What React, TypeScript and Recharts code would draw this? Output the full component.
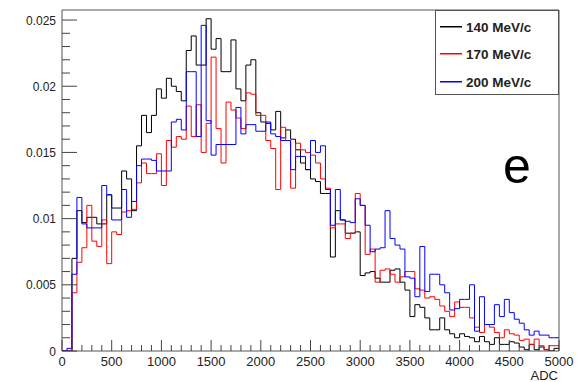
import { LineChart, Line, XAxis, YAxis, ReferenceArea } from 'recharts'

// ADC histogram, 100 bins of 50 ADC (0-5000)
const binLow: number[] = Array.from({ length: 100 }, (_, i) => i * 50)

const p140 = [
  0, 0, 0.0070, 0.0106, 0.0097, 0.0101, 0.0101, 0.0096, 0.0096, 0.0118,
  0.0108, 0.0108, 0.0136, 0.0130, 0.0106, 0.0155, 0.0178, 0.0165, 0.0178, 0.0198,
  0.0191, 0.0206, 0.0200, 0.0196, 0.0189, 0.0227, 0.0238, 0.0216, 0.0216, 0.0251,
  0.0228, 0.0236, 0.0211, 0.0211, 0.0235, 0.0198, 0.0189, 0.0216, 0.0220, 0.0180,
  0.0173, 0.0172, 0.0167, 0.0181, 0.0161, 0.0167, 0.0160, 0.0152, 0.0142, 0.0137,
  0.0130, 0.0128, 0.0119, 0.0119, 0.0071, 0.0106, 0.0099, 0.0089, 0.0089, 0.0090,
  0.0057, 0.0059, 0.0060, 0.0055, 0.0052, 0.0052, 0.0061, 0.0062, 0.0052, 0.0046,
  0.0026, 0.0035, 0.0033, 0.0025, 0.0016, 0.0016, 0.0025, 0.0016, 0.0013, 0.0010,
  0.0013, 0.0011, 0.0010, 0.0007, 0.0011, 0.0007, 0.0005, 0.0010, 0.0005, 0.0005,
  0.0007, 0.0006, 0.0003, 0.0001, 0.0005, 0.0001, 0.0003, 0.0001, 0.0000, 0.0002,
]

const p170 = [
  0, 0, 0.0044, 0.0067, 0.0078, 0.0110, 0.0083, 0.0079, 0.0099, 0.0066,
  0.0090, 0.0088, 0.0105, 0.0106, 0.0107, 0.0127, 0.0142, 0.0134, 0.0134, 0.0149,
  0.0125, 0.0159, 0.0154, 0.0162, 0.0160, 0.0185, 0.0162, 0.0186, 0.0150, 0.0172,
  0.0222, 0.0168, 0.0142, 0.0188, 0.0182, 0.0176, 0.0168, 0.0195, 0.0194, 0.0178,
  0.0178, 0.0159, 0.0153, 0.0122, 0.0169, 0.0159, 0.0123, 0.0157, 0.0152, 0.0150,
  0.0148, 0.0142, 0.0130, 0.0123, 0.0093, 0.0096, 0.0096, 0.0085, 0.0089, 0.0119,
  0.0110, 0.0073, 0.0077, 0.0052, 0.0061, 0.0062, 0.0058, 0.0052, 0.0056, 0.0060,
  0.0060, 0.0047, 0.0046, 0.0040, 0.0041, 0.0039, 0.0034, 0.0030, 0.0026, 0.0037,
  0.0033, 0.0033, 0.0025, 0.0018, 0.0014, 0.0020, 0.0018, 0.0014, 0.0010, 0.0016,
  0.0013, 0.0012, 0.0008, 0.0009, 0.0005, 0.0009, 0.0004, 0.0001, 0.0004, 0.0004,
]

const p200 = [
  0, 0.0002, 0.0058, 0.0116, 0.0096, 0.0093, 0.0093, 0.0093, 0.0125, 0.0118,
  0.0099, 0.0099, 0.0122, 0.0101, 0.0113, 0.0140, 0.0145, 0.0145, 0.0144, 0.0136,
  0.0136, 0.0136, 0.0173, 0.0175, 0.0167, 0.0211, 0.0211, 0.0162, 0.0246, 0.0174,
  0.0148, 0.0156, 0.0156, 0.0156, 0.0156, 0.0184, 0.0164, 0.0171, 0.0171, 0.0166,
  0.0166, 0.0173, 0.0164, 0.0162, 0.0159, 0.0159, 0.0137, 0.0147, 0.0147, 0.0137,
  0.0159, 0.0150, 0.0155, 0.0122, 0.0095, 0.0122, 0.0099, 0.0098, 0.0097, 0.0115,
  0.0110, 0.0095, 0.0075, 0.0077, 0.0078, 0.0106, 0.0085, 0.0080, 0.0077, 0.0056,
  0.0055, 0.0041, 0.0079, 0.0045, 0.0058, 0.0058, 0.0050, 0.0044, 0.0031, 0.0032,
  0.0039, 0.0039, 0.0050, 0.0015, 0.0041, 0.0020, 0.0020, 0.0035, 0.0026, 0.0039,
  0.0029, 0.0024, 0.0021, 0.0016, 0.0012, 0.0015, 0.0012, 0.0012, 0.0010, 0.0010,
]

const series = [
  { key: 'p140', name: '140 MeV/c', color: '#000000' },
  { key: 'p170', name: '170 MeV/c', color: '#ff0000' },
  { key: 'p200', name: '200 MeV/c', color: '#0000ff' },
]

const xMajor = [0, 500, 1000, 1500, 2000, 2500, 3000, 3500, 4000, 4500, 5000]
const yMajor = [0, 0.005, 0.01, 0.015, 0.02, 0.025]
const yLabels = ['0', '0.005', '0.01', '0.015', '0.02', '0.025']

const xTicks = Array.from({ length: 51 }, (_, i) => i * 100)
const yTicks = Array.from({ length: 26 }, (_, i) => i / 1000)

const X_MAX = 5000
const Y_MAX = 0.02576

// plot geometry
const W = 579
const H = 382
const LEFT = 62
const BOTTOM = 351
const FONT = '"Liberation Sans", Arial, Helvetica, sans-serif'

// last point repeats the last bin so the outline reaches 5000
const data = [...binLow, X_MAX].map((adc, i) => {
  const j = Math.min(i, 99)
  return { adc, p140: p140[j], p170: p170[j], p200: p200[j] }
})

const XTick = (props: any) => {
  const { x, payload } = props
  const v = payload.value
  const major = xMajor.includes(v)
  return (
    <g>
      <line x1={x} x2={x} y1={BOTTOM} y2={BOTTOM - (major ? 11 : 6)} stroke="#444" strokeWidth={1} />
      {major && (
        <text x={x} y={366} textAnchor="middle" fontSize={13} fontFamily={FONT} fill="#222">
          {v}
        </text>
      )}
    </g>
  )
}

const YTick = (props: any) => {
  const { y, payload } = props
  const idx = yMajor.findIndex((m) => Math.abs(m - payload.value) < 1e-9)
  const major = idx >= 0
  return (
    <g>
      <line x1={LEFT} x2={LEFT + (major ? 15 : 8)} y1={y} y2={y} stroke="#444" strokeWidth={1} />
      {major && (
        <text x={56} y={y} dy={4.5} textAnchor="end" fontSize={12} fontFamily={FONT} fill="#222">
          {yLabels[idx]}
        </text>
      )}
    </g>
  )
}

const legendRows = [26, 53, 81]

export default function App() {
  return (
    <div style={{ position: 'absolute', left: 0, top: 0, width: W, height: H, background: '#fff' }}>
      <LineChart width={W} height={H} data={data} margin={{ top: 10, right: 20, bottom: 11, left: 0 }}>
        <XAxis
          type="number"
          dataKey="adc"
          domain={[0, X_MAX]}
          ticks={xTicks}
          interval={0}
          tick={<XTick />}
          tickLine={false}
          axisLine={false}
          height={20}
        />
        <YAxis
          type="number"
          domain={[0, Y_MAX]}
          ticks={yTicks}
          interval={0}
          tick={<YTick />}
          tickLine={false}
          axisLine={false}
          width={62}
          allowDataOverflow
        />
        <ReferenceArea x1={0} x2={X_MAX} y1={0} y2={Y_MAX} fill="none" stroke="#555" strokeWidth={1} ifOverflow="visible" />
        {series.map((s) => (
          <Line
            key={s.key}
            type="stepAfter"
            dataKey={s.key}
            stroke={s.color}
            strokeWidth={1}
            dot={false}
            activeDot={false}
            isAnimationActive={false}
          />
        ))}
        <text x={558} y={380} textAnchor="end" fontSize={13} fontFamily={FONT} fill="#222">
          ADC
        </text>
        <g>
          <rect x={435.5} y={10.5} width={123} height={84} fill="#fff" stroke="#555" strokeWidth={1} />
          {series.map((s, i) => (
            <g key={s.key}>
              <rect x={440} y={legendRows[i]} width={22} height={1.5} fill={s.color} stroke="none" />
              <text
                x={466}
                y={legendRows[i] + 5.5}
                fontSize={13.5}
                fontWeight="bold"
                fontFamily={FONT}
                fill="#222"
              >
                {s.name}
              </text>
            </g>
          ))}
        </g>
        <text x={503} y={183} fontSize={50} fontFamily={FONT} fill="#000">
          e
        </text>
      </LineChart>
    </div>
  )
}
